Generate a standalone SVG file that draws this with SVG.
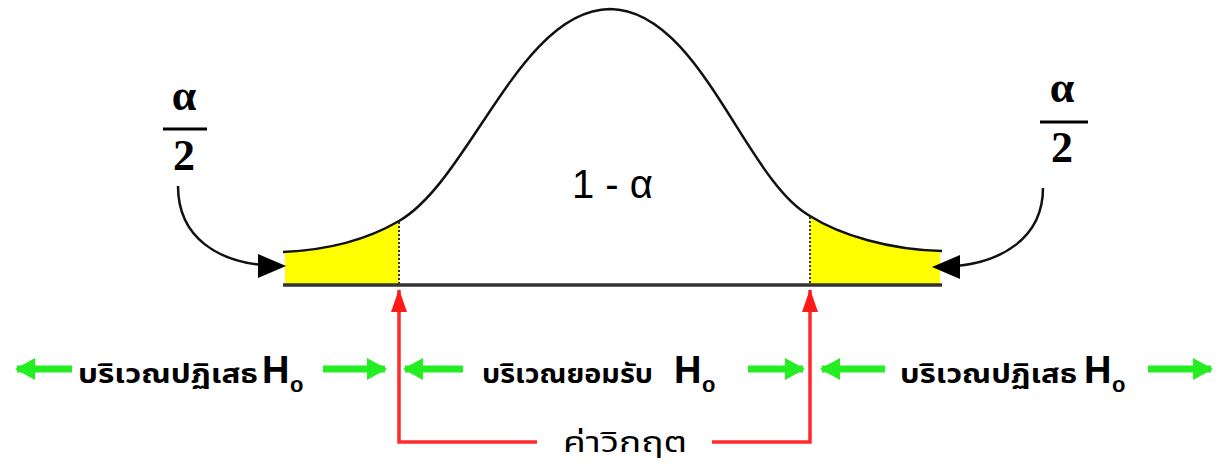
<svg xmlns="http://www.w3.org/2000/svg" width="1224" height="468" viewBox="0 0 1224 468">
<defs>
<style>
.curve{fill:none;stroke:#111;stroke-width:2.5}
.tail{fill:#ffff00;stroke:none}
.cut{stroke:#333;stroke-width:2;stroke-dasharray:2,2}
.base{stroke:#333;stroke-width:3.5}
.blk{fill:none;stroke:#111;stroke-width:2.5}
.red{fill:none;stroke:#ff2a2a;stroke-width:3.5}
.grn{stroke:#22ee22;stroke-width:7}
.frac{font-family:"Liberation Serif",serif;font-weight:bold;font-size:44px;fill:#000;text-anchor:middle}
.thai{font-family:"Noto Sans Thai","Noto Sans","DejaVu Sans",sans-serif;font-weight:bold;font-size:26px;fill:#000}
.h{font-family:"Liberation Sans",sans-serif;font-weight:bold;font-size:38px;fill:#000}
.sub{font-family:"Liberation Sans",sans-serif;font-weight:bold;font-size:22px;fill:#000}
</style>
<marker id="ab" markerUnits="userSpaceOnUse" markerWidth="40" markerHeight="40" refX="0" refY="0" orient="auto" overflow="visible">
<path d="M-24,-12 L4,0 L-24,12 Z" fill="#000"/>
</marker>
<marker id="ag" markerUnits="userSpaceOnUse" markerWidth="40" markerHeight="40" refX="0" refY="0" orient="auto" overflow="visible">
<path d="M-18,-11 L2,0 L-18,11 Z" fill="#22ee22"/>
</marker>
<marker id="ar" markerUnits="userSpaceOnUse" markerWidth="40" markerHeight="40" refX="0" refY="0" orient="auto" overflow="visible">
<path d="M-22,-8 L1,0 L-22,8 Z" fill="#ff1a1a"/>
</marker>
</defs>
<rect width="1224" height="468" fill="#fff"/>

<g id="distribution">
<path class="tail" d="M285,252 C330,250 370,238 399,221 L399,284 L285,284 Z"/>
<path class="tail" d="M810,216 C840,235 890,250 940,251 L940,284 L810,284 Z"/>
<path class="curve" d="M283,252 C330,250 370,238 399,221 C470,180 520,10 610,9 C700,10 745,180 810,216 C840,235 890,250 942,251"/>
<line class="cut" x1="399" y1="222" x2="399" y2="284"/>
<line class="cut" x1="810" y1="217" x2="810" y2="284"/>
<line class="base" x1="283" y1="285" x2="942" y2="285"/>
<text x="572" y="198" style="font-family:'Liberation Sans',sans-serif;font-size:40px;fill:#000">1 - α</text>
</g>

<g id="alpha-left">
<text class="frac" x="184" y="110">α</text>
<line x1="163" y1="129" x2="207" y2="129" stroke="#000" stroke-width="3"/>
<text class="frac" x="184" y="170">2</text>
</g>
<g id="alpha-right">
<text class="frac" x="1062" y="102">α</text>
<line x1="1040" y1="122" x2="1088" y2="122" stroke="#000" stroke-width="3"/>
<text class="frac" x="1062" y="162">2</text>
</g>

<g id="connectors">
<path class="blk" d="M178,186 C178,235 215,266 282,266" marker-end="url(#ab)"/>
<path class="blk" d="M1043,188 C1043,235 1005,267 936,267" marker-end="url(#ab)"/>
<path class="red" d="M537,442 L399,442 L399,290" marker-end="url(#ar)"/>
<path class="red" d="M712,442 L810,442 L810,290" marker-end="url(#ar)"/>
<line class="grn" x1="72" y1="369" x2="17" y2="369" marker-end="url(#ag)"/>
<line class="grn" x1="323" y1="369" x2="385" y2="369" marker-end="url(#ag)"/>
<line class="grn" x1="463" y1="369" x2="405" y2="369" marker-end="url(#ag)"/>
<line class="grn" x1="748" y1="369" x2="803" y2="369" marker-end="url(#ag)"/>
<line class="grn" x1="885" y1="369" x2="822" y2="369" marker-end="url(#ag)"/>
<line class="grn" x1="1148" y1="369" x2="1211" y2="369" marker-end="url(#ag)"/>
</g>

<g id="label-reject-left">
<text class="thai" x="78" y="383" textLength="180" lengthAdjust="spacingAndGlyphs">บริเวณปฏิเสธ</text>
<text class="h" x="262" y="383">H</text><text class="sub" x="290" y="392">o</text>
</g>
<g id="label-accept">
<text class="thai" x="482" y="383" textLength="171" lengthAdjust="spacingAndGlyphs">บริเวณยอมรับ</text>
<text class="h" x="674" y="383">H</text><text class="sub" x="702" y="392">o</text>
</g>
<g id="label-reject-right">
<text class="thai" x="900" y="383" textLength="177" lengthAdjust="spacingAndGlyphs">บริเวณปฏิเสธ</text>
<text class="h" x="1084" y="383">H</text><text class="sub" x="1112" y="392">o</text>
</g>
<g id="label-critical">
<text x="625" y="452" text-anchor="middle" textLength="124" lengthAdjust="spacingAndGlyphs" style="font-family:'Noto Sans Thai','Noto Sans','DejaVu Sans',sans-serif;font-size:28px;fill:#000">ค่าวิกฤต</text>
</g>
</svg>
